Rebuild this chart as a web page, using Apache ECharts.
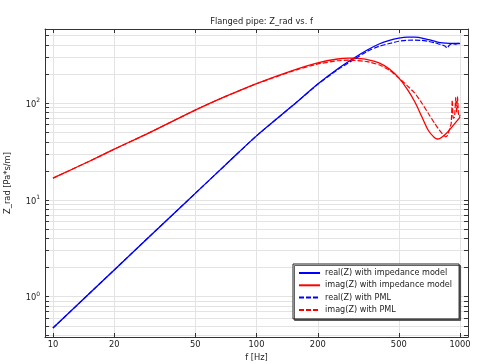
<!DOCTYPE html>
<html>
<head>
<meta charset="utf-8">
<script src="https://cdn.jsdelivr.net/npm/echarts@6/dist/echarts.min.js"></script>
<style>html,body{margin:0;padding:0;background:#fff}#c{width:484px;height:364px}</style>
</head>
<body>
<div id="c"></div>
<script>
// ---- data ----
const xTickValues = [10, 20, 50, 100, 200, 500, 1000];
const yLabelValues = [1, 10, 100];
const yTickValues = [0.4,0.5,0.6,0.7,0.8,0.9,1,2,3,4,5,6,7,8,9,10,20,30,40,50,60,70,80,90,100,200,300,400,500];

const fRealImp = [10,15,20,30,40,50,70,100,150,200,250,300,350,400,450,500,550,600,650,700,750,800,850,900,950,1000];
const vRealImp = [0.474,1.065,1.89,4.25,7.5,11.7,22.8,46,94,158,226,292,355,410,448,472,484,482,472,455,438,424,418,416,415,415];

const fImagImp = [10,15,20,30,50,70,100,150,200,250,285,300,350,400,450,500,550,600,650,700,750,775,800,850,900,950,1000];
const vImagImp = [16.8,25,33.5,50,85,117,160,218,262,287,293,292,283,262,226,183,140,103,72,52,44,42.7,43.5,48,55,63,72];

const fRealPml = [10,15,20,30,40,50,70,100,150,200,250,300,350,400,450,500,550,600,650,700,750,800,830,850,860,870,885,900,925,950,975,1000];
const vRealPml = [0.474,1.065,1.89,4.25,7.5,11.7,22.8,46,94,157,222,282,345,388,415,438,448,450,446,436,422,405,396,385,372,378,398,408,412,408,417,413];

const fImagPml = [10,15,20,30,50,70,100,150,200,250,285,300,350,400,450,500,550,600,650,700,750,790,820,850,870,890,905,915,925,940,952,962,972,982,992,1000];
const vImagPml = [16.8,25,33.5,50,85,117,159,215,255,275,279,278,270,250,220,183,152,127,100,78,62,53,48,45,47,55,62,108,70,72,115,80,118,78,72,76];

const seriesNames = ['real(Z) with impedance model','imag(Z) with impedance model','real(Z) with PML','imag(Z) with PML'];

const zip = (f, v) => f.map((x, i) => [x, v[i]]);

const FONT = 'DejaVu Sans';
const chart = echarts.init(document.getElementById('c'), null, {renderer: 'canvas'});

const xBase = {
  type: 'log', min: 9.14, max: 1094, logBase: 10,
  axisLine: {show: true, lineStyle: {color: '#333', width: 1}},
  axisTick: {show: true, inside: true, length: 4, customValues: xTickValues, lineStyle: {color: '#333'}},
  minorTick: {show: false},
};
const yBase = {
  type: 'log', min: 0.383, max: 586, logBase: 10,
  axisLine: {show: true, lineStyle: {color: '#333', width: 1}},
  axisTick: {show: true, inside: true, length: 4, customValues: yTickValues, lineStyle: {color: '#333'}},
  minorTick: {show: false},
};

chart.setOption({
  animation: false,
  backgroundColor: '#fff',
  textStyle: {fontFamily: FONT},
  title: {
    text: 'Flanged pipe: Z_rad vs. f', left: 256.5, textAlign: 'center', top: 13,
    textStyle: {fontSize: 8.3, fontWeight: 'normal', color: '#222', fontFamily: FONT}
  },
  grid: {left: 45, right: 16, top: 29, bottom: 27, containLabel: false, outerBoundsMode: 'none'},
  xAxis: [
    Object.assign({}, xBase, {
      position: 'bottom', name: 'f [Hz]', nameLocation: 'middle', nameGap: 16,
      nameTextStyle: {fontSize: 8.3, color: '#222', fontFamily: FONT},
      axisLabel: {show: true, customValues: xTickValues, margin: 4, fontSize: 8.3, color: '#222', fontFamily: FONT,
        formatter: v => String(Math.round(v))},
      splitLine: {show: true, lineStyle: {color: '#e3e3e3', width: 1}}
    }),
    Object.assign({}, xBase, {
      position: 'top', axisLabel: {show: false}, splitLine: {show: false}
    })
  ],
  yAxis: [
    Object.assign({}, yBase, {
      position: 'left', name: 'Z_rad [Pa*s/m]', nameLocation: 'middle', nameGap: 33,
      nameTextStyle: {fontSize: 8.3, color: '#222', fontFamily: FONT},
      axisLabel: {show: true, customValues: yLabelValues, margin: 5, color: '#222', fontFamily: FONT,
        formatter: v => '{b|10}{s|' + Math.round(Math.log10(v)) + '}',
        rich: {
          b: {fontSize: 8.3, color: '#222', fontFamily: FONT, verticalAlign: 'bottom'},
          s: {fontSize: 6, color: '#222', fontFamily: FONT, verticalAlign: 'bottom', padding: [0, 0, 5, 0]}
        }},
      splitLine: {show: true, lineStyle: {color: '#e3e3e3', width: 1}}
    }),
    Object.assign({}, yBase, {
      position: 'right', axisLabel: {show: false}, splitLine: {show: false}
    })
  ],
  legend: {
    orient: 'vertical', left: 293, top: 264,
    padding: [5, 7, 5, 5],
    itemWidth: 21, itemHeight: 10, itemGap: 4.3,
    itemStyle: {opacity: 0},
    backgroundColor: '#fff', borderColor: '#222', borderWidth: 1,
    shadowColor: 'rgba(60,60,60,0.8)', shadowBlur: 0, shadowOffsetX: 1.5, shadowOffsetY: 1.5,
    textStyle: {fontSize: 8.1, color: '#222', fontFamily: FONT},
    data: seriesNames
  },
  series: [
    {name: seriesNames[0], type: 'line', data: zip(fRealImp, vRealImp), showSymbol: false, symbol: 'none', smooth: 0.3,
      lineStyle: {color: '#0000ff', width: 1.3}, itemStyle: {color: '#0000ff'}, z: 3},
    {name: seriesNames[1], type: 'line', data: zip(fImagImp, vImagImp), showSymbol: false, symbol: 'none', smooth: 0.3,
      lineStyle: {color: '#ff0000', width: 1.3}, itemStyle: {color: '#ff0000'}, z: 3},
    {name: seriesNames[2], type: 'line', data: zip(fRealPml, vRealPml), showSymbol: false, symbol: 'none', smooth: 0.2,
      lineStyle: {color: '#0000ff', width: 1.2, type: [5, 2]}, itemStyle: {color: '#0000ff'}, z: 3},
    {name: seriesNames[3], type: 'line', data: zip(fImagPml, vImagPml), showSymbol: false, symbol: 'none', smooth: 0.1,
      lineStyle: {color: '#ff0000', width: 1.2, type: [5, 2]}, itemStyle: {color: '#ff0000'}, z: 3}
  ]
});
</script>
</body>
</html>
